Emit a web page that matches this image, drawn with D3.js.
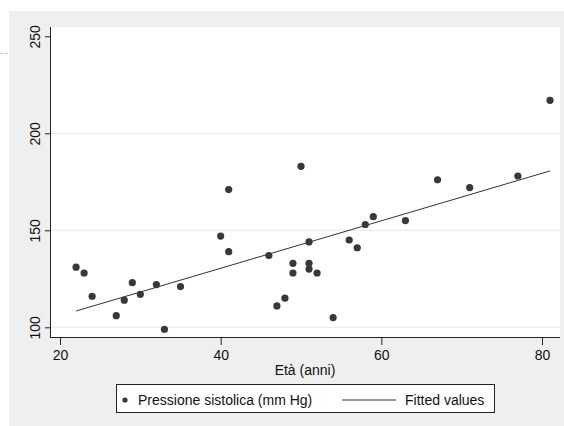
<!DOCTYPE html>
<html>
<head>
<meta charset="utf-8">
<script src="https://cdn.jsdelivr.net/npm/d3@7"></script>
<style>
    html, body { margin: 0; padding: 0; background: #fff; overflow: hidden; }
    svg { display: block; }
    text { font-family: "Liberation Sans", Arial, sans-serif; fill: #111; }
</style>
</head>
<body>
<script>
// age (anni) and systolic pressure (mm Hg)
var eta = [22, 23, 24, 27, 28, 29, 30, 32, 33, 35,
    40, 41, 41, 46, 47, 48, 49, 49, 50, 51, 51, 51, 52,
    54, 56, 57, 58, 59, 63, 67, 71, 77, 81];
var pressione = [131, 128, 116, 106, 114, 123, 117, 122, 99, 121,
    147, 171, 139, 137, 111, 115, 133, 128, 183, 144, 133, 130, 128,
    105, 145, 141, 153, 157, 155, 176, 172, 178, 217];

// fitted line end points
var fitEta = [22, 81];
var fitPressione = [108.4, 180.6];

var xTicks = [20, 40, 60, 80];
var yTicks = [100, 150, 200, 250];
var gridTicks = [100, 150, 200];

var legendLabels = ["Pressione sistolica (mm Hg)", "Fitted values"];

var width = 564, height = 426;
var plot = {left: 50, right: 560, top: 27, bottom: 338};

var svg = d3.select("body").append("svg")
    .attr("width", width)
    .attr("height", height);

// outer graph region
svg.append("rect")
    .attr("x", 9)
    .attr("y", 11)
    .attr("width", width - 9)
    .attr("height", height - 11)
    .attr("fill", "#efefef");

svg.append("line")
    .attr("x1", 0)
    .attr("x2", 8)
    .attr("y1", 53.5)
    .attr("y2", 53.5)
    .attr("stroke", "#c8c8c8")
    .attr("stroke-dasharray", "3,2");

// plot region
svg.append("rect")
    .attr("x", plot.left)
    .attr("y", plot.top)
    .attr("width", plot.right - plot.left)
    .attr("height", plot.bottom - plot.top)
    .attr("fill", "#fff");

var x = d3.scaleLinear()
    .domain([20, 80])
    .range([60, 542]);

var y = d3.scaleLinear()
    .domain([100, 250])
    .range([327.3, 36.3]);

svg.selectAll(".grid")
    .data(gridTicks)
    .enter()
    .append("line")
    .attr("class", "grid")
    .attr("x1", plot.left)
    .attr("x2", plot.right)
    .attr("y1", function(d) { return y(d); })
    .attr("y2", function(d) { return y(d); })
    .attr("stroke", "#e8e8e8")
    .attr("stroke-width", 1);

// axes
var yAxis = svg.append("g")
    .attr("transform", "translate(" + plot.left + ",0)")
    .call(d3.axisLeft(y).tickValues(yTicks).tickSize(5).tickFormat(d3.format("d")));

yAxis.selectAll("text")
    .attr("transform", "rotate(-90)")
    .attr("x", 0)
    .attr("y", -10)
    .attr("dy", 0)
    .style("text-anchor", "middle");

var xAxis = svg.append("g")
    .attr("transform", "translate(0," + plot.bottom + ")")
    .call(d3.axisBottom(x).tickValues(xTicks).tickSize(7).tickFormat(d3.format("d")));

xAxis.selectAll("text")
    .attr("y", 22)
    .attr("dy", 0);

svg.selectAll(".domain").remove();
svg.selectAll(".tick line").attr("stroke", "#222");
svg.selectAll(".tick text")
    .style("font-size", "14px")
    .style("font-family", "'Liberation Sans', Arial, sans-serif")
    .attr("fill", "#111");

svg.append("line")
    .attr("x1", plot.left + 0.5)
    .attr("x2", plot.left + 0.5)
    .attr("y1", plot.top)
    .attr("y2", plot.bottom)
    .attr("stroke", "#222");

svg.append("line")
    .attr("x1", plot.left)
    .attr("x2", plot.right)
    .attr("y1", plot.bottom - 0.5)
    .attr("y2", plot.bottom - 0.5)
    .attr("stroke", "#222");

svg.append("text")
    .attr("x", (plot.left + plot.right) / 2)
    .attr("y", 375)
    .attr("text-anchor", "middle")
    .style("font-size", "14px")
    .text("Età (anni)");

// fitted line
var line = d3.line()
    .x(function(d) { return x(d[0]); })
    .y(function(d) { return y(d[1]); });

svg.append("path")
    .datum(d3.zip(fitEta, fitPressione))
    .attr("d", line)
    .attr("fill", "none")
    .attr("stroke", "#333")
    .attr("stroke-width", 1);

// points
svg.selectAll(".dot")
    .data(d3.zip(eta, pressione))
    .enter()
    .append("circle")
    .attr("class", "dot")
    .attr("cx", function(d) { return x(d[0]); })
    .attr("cy", function(d) { return y(d[1]); })
    .attr("r", 3.6)
    .attr("fill", "#383838");

// legend
var legend = svg.append("g")
    .attr("transform", "translate(116,384)");

legend.append("rect")
    .attr("x", 0.5)
    .attr("y", 0.5)
    .attr("width", 378)
    .attr("height", 28)
    .attr("fill", "#fff")
    .attr("stroke", "#222");

legend.append("circle")
    .attr("cx", 9)
    .attr("cy", 16)
    .attr("r", 2.6)
    .attr("fill", "#383838");

legend.append("text")
    .attr("x", 22)
    .attr("y", 21)
    .style("font-size", "14px")
    .text(legendLabels[0]);

legend.append("line")
    .attr("x1", 226)
    .attr("x2", 280)
    .attr("y1", 16)
    .attr("y2", 16)
    .attr("stroke", "#333");

legend.append("text")
    .attr("x", 289)
    .attr("y", 21)
    .style("font-size", "14px")
    .text(legendLabels[1]);
</script>
</body>
</html>
